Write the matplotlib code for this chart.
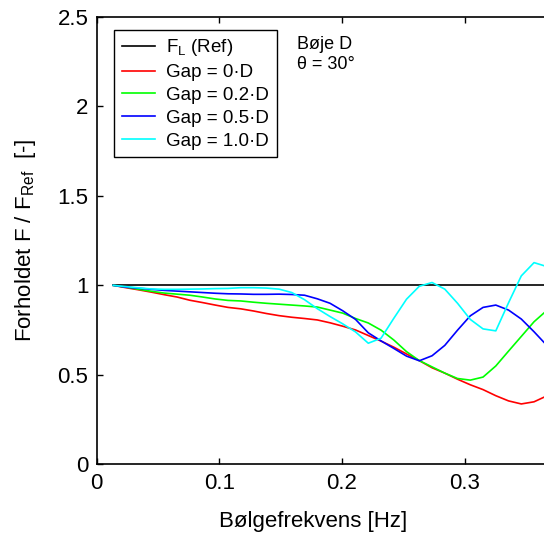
import numpy as np
import matplotlib
matplotlib.use('agg')
import matplotlib.pyplot as plt

plt.rcParams['font.family'] = ['Liberation Sans', 'DejaVu Sans']
plt.rcParams['mathtext.fontset'] = 'custom'
plt.rcParams['mathtext.rm'] = 'Liberation Sans'
plt.rcParams['mathtext.it'] = 'Liberation Sans:italic'

# Frequency points [Hz]
freq = [0.0135, 0.0239, 0.0343, 0.0447, 0.0551, 0.0655, 0.0759, 0.0863, 0.0967,
        0.1071, 0.1175, 0.1279, 0.1383, 0.1487, 0.1591, 0.1695, 0.1799, 0.1903,
        0.2007, 0.2111, 0.2215, 0.2319, 0.2423, 0.2527, 0.2631, 0.2735, 0.2839,
        0.2943, 0.3047, 0.3151, 0.3255, 0.3359, 0.3463, 0.3567, 0.3671]

# Force ratio F / F_Ref for each gap
ref = [1.0] * len(freq)
gap_0 = [1.0, 0.987, 0.975, 0.962, 0.948, 0.935, 0.917, 0.904, 0.89, 0.877,
         0.869, 0.857, 0.843, 0.831, 0.822, 0.815, 0.807, 0.791, 0.772, 0.751,
         0.72, 0.689, 0.655, 0.617, 0.58, 0.54, 0.51, 0.476, 0.445, 0.418,
         0.384, 0.355, 0.338, 0.35, 0.383]
gap_02 = [1.0, 0.99, 0.978, 0.967, 0.957, 0.951, 0.945, 0.935, 0.924, 0.916,
          0.913, 0.906, 0.9, 0.895, 0.89, 0.885, 0.879, 0.862, 0.845, 0.815,
          0.79, 0.75, 0.695, 0.63, 0.58, 0.545, 0.51, 0.48, 0.471, 0.488,
          0.55, 0.633, 0.715, 0.797, 0.86]
gap_05 = [1.0, 0.99, 0.984, 0.978, 0.972, 0.968, 0.964, 0.96, 0.956, 0.953,
          0.952, 0.95, 0.95, 0.951, 0.949, 0.945, 0.925, 0.9, 0.858, 0.81,
          0.735, 0.69, 0.648, 0.605, 0.579, 0.607, 0.665, 0.75, 0.83, 0.877,
          0.89, 0.862, 0.812, 0.741, 0.665]
gap_10 = [1.0, 0.993, 0.986, 0.98, 0.978, 0.978, 0.979, 0.98, 0.982, 0.983,
          0.987, 0.987, 0.985, 0.979, 0.96, 0.92, 0.87, 0.826, 0.785, 0.74,
          0.677, 0.705, 0.816, 0.923, 0.995, 1.016, 0.979, 0.9, 0.81, 0.757,
          0.746, 0.903, 1.053, 1.127, 1.105]

labels = ['F$_{\\mathrm{L}}$ (Ref)', 'Gap = 0\u00b7D', 'Gap = 0.2\u00b7D',
          'Gap = 0.5\u00b7D', 'Gap = 1.0\u00b7D']
colors = ['k', (1, 0, 0), (0, 1, 0), (0, 0, 1), (0, 1, 1)]

fig = plt.figure(figsize=(5.44, 5.46), dpi=100)
ax = fig.add_axes([0.1778, 0.1493, 0.9015, 0.8201])

for series, lab, col in zip([ref, gap_0, gap_02, gap_05, gap_10], labels, colors):
    ax.plot(freq, series, color=col, lw=1.2, label=lab)

ax.set_xlim(0, 0.4)
ax.set_ylim(0, 2.5)
ax.set_xticks([0, 0.1, 0.2, 0.3])
ax.set_xticklabels(['0', '0.1', '0.2', '0.3'])
ax.set_yticks([0, 0.5, 1, 1.5, 2, 2.5])
ax.set_yticklabels(['0', '0.5', '1', '1.5', '2', '2.5'])
ax.tick_params(direction='in', top=True, right=True, length=4, width=1,
               labelsize=16, pad=6)
for s in ax.spines.values():
    s.set_linewidth(1.2)

ax.set_xlabel('B\u00f8lgefrekvens [Hz]', fontsize=16)
ax.xaxis.set_label_coords(0.441, -0.105)
ax.set_ylabel('Forholdet F / F$_{\\mathrm{Ref}}$  [-]', fontsize=16, labelpad=14)

ax.text(0.163, 2.345, 'B\u00f8je D', fontsize=13, va='center')
ax.text(0.163, 2.235, '\u03b8 = 30\u00b0', fontsize=13, va='center')

leg = ax.legend(loc='upper left', bbox_to_anchor=(114 / 544, 1 - 30 / 546),
                bbox_transform=fig.transFigure, borderaxespad=0,
                fancybox=False, edgecolor='k', framealpha=1, fontsize=13.5,
                handlelength=1.8, handletextpad=0.6, labelspacing=0.3,
                borderpad=0.4)
leg.get_frame().set_linewidth(1.0)

fig.savefig('out.png', dpi=100)
